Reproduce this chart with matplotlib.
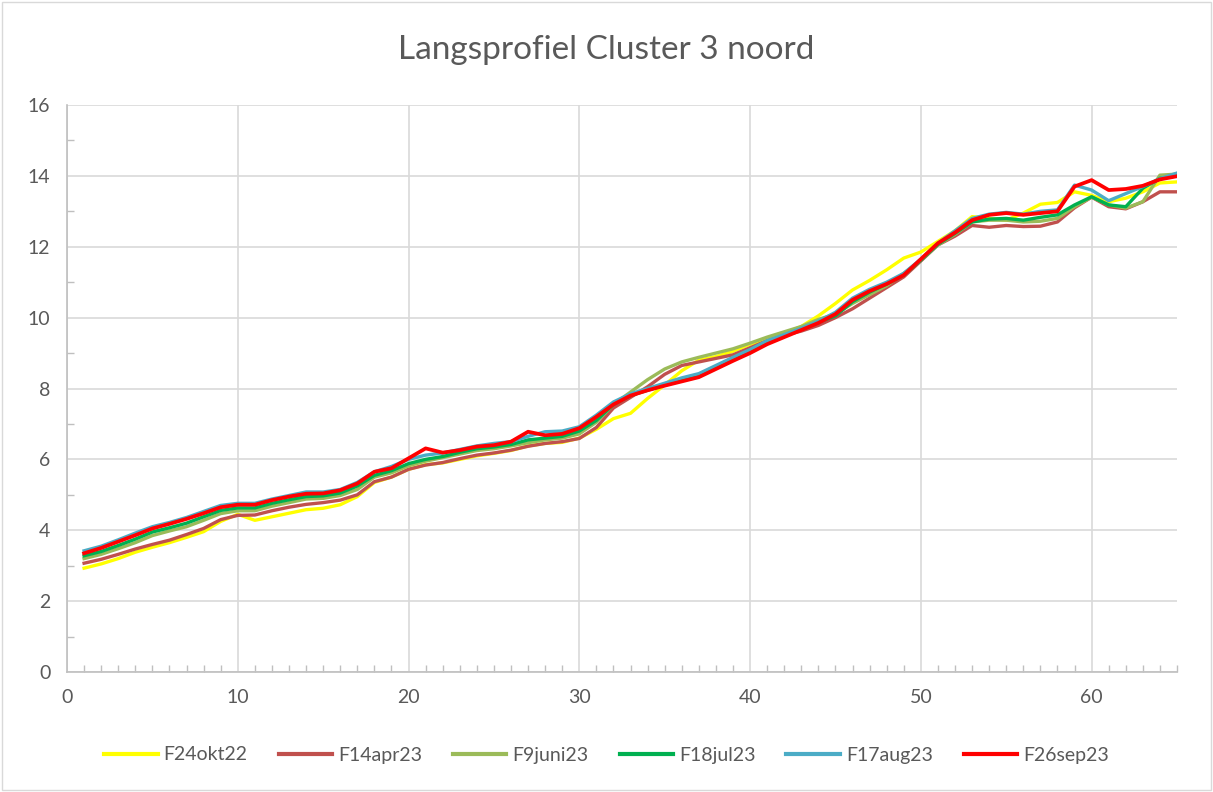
import matplotlib
matplotlib.use("Agg")
import matplotlib.pyplot as plt
from matplotlib.ticker import MultipleLocator
from matplotlib.patches import Rectangle

x = list(range(1, 66))

F24okt22 = [2.93, 3.05, 3.2, 3.38, 3.52, 3.65, 3.8, 3.96, 4.25, 4.45,
            4.28, 4.38, 4.48, 4.58, 4.62, 4.72, 4.95, 5.35, 5.5, 5.72,
            5.85, 5.9, 6.0, 6.1, 6.17, 6.25, 6.38, 6.45, 6.48, 6.6,
            6.85, 7.15, 7.3, 7.72, 8.1, 8.5, 8.8, 8.9, 9.05, 9.25,
            9.4, 9.55, 9.75, 10.05, 10.4, 10.78, 11.05, 11.35, 11.68, 11.85,
            12.15, 12.45, 12.85, 12.8, 12.75, 12.95, 13.2, 13.25, 13.55, 13.45,
            13.27, 13.37, 13.55, 13.8, 13.83]

F14apr23 = [3.07, 3.18, 3.32, 3.47, 3.6, 3.72, 3.88, 4.05, 4.3, 4.42,
            4.43, 4.55, 4.65, 4.73, 4.78, 4.85, 5.0, 5.37, 5.5, 5.72,
            5.84, 5.91, 6.02, 6.12, 6.18, 6.26, 6.37, 6.45, 6.5, 6.59,
            6.9, 7.45, 7.75, 8.05, 8.4, 8.65, 8.75, 8.85, 8.95, 9.15,
            9.35, 9.5, 9.62, 9.78, 10.0, 10.25, 10.55, 10.85, 11.15, 11.6,
            12.05, 12.3, 12.6, 12.55, 12.6, 12.57, 12.58, 12.7, 13.1, 13.4,
            13.13, 13.07, 13.27, 13.55, 13.55]

F9juni23 = [3.2, 3.32, 3.48, 3.65, 3.85, 3.98, 4.1, 4.28, 4.47, 4.55,
            4.55, 4.68, 4.78, 4.88, 4.9, 4.98, 5.15, 5.5, 5.62, 5.82,
            5.95, 6.05, 6.15, 6.25, 6.3, 6.38, 6.47, 6.55, 6.6, 6.72,
            7.05, 7.55, 7.9, 8.25, 8.55, 8.75, 8.88, 9.0, 9.12, 9.28,
            9.45, 9.6, 9.75, 9.95, 10.1, 10.4, 10.65, 10.9, 11.25, 11.62,
            12.05, 12.35, 12.7, 12.75, 12.75, 12.7, 12.72, 12.8, 13.13, 13.4,
            13.18, 13.09, 13.27, 14.02, 14.05]

F18jul23 = [3.28, 3.4, 3.57, 3.75, 3.95, 4.07, 4.2, 4.38, 4.56, 4.63,
            4.63, 4.76, 4.86, 4.95, 4.97, 5.05, 5.25, 5.55, 5.68, 5.88,
            6.0, 6.08, 6.2, 6.3, 6.35, 6.42, 6.55, 6.6, 6.65, 6.8,
            7.1, 7.55, 7.8, 7.95, 8.1, 8.25, 8.38, 8.62, 8.85, 9.08,
            9.32, 9.5, 9.68, 9.87, 10.05, 10.45, 10.72, 10.95, 11.2, 11.62,
            12.07, 12.38, 12.7, 12.78, 12.8, 12.75, 12.83, 12.9, 13.18, 13.41,
            13.18, 13.13, 13.65, 13.93, 14.0]

F17aug23 = [3.42, 3.55, 3.73, 3.92, 4.1, 4.22, 4.36, 4.53, 4.7, 4.76,
            4.76, 4.88, 4.98, 5.08, 5.08, 5.15, 5.35, 5.65, 5.8, 6.0,
            6.12, 6.18, 6.28, 6.38, 6.45, 6.5, 6.65, 6.78, 6.8, 6.92,
            7.25, 7.62, 7.85, 8.0, 8.15, 8.3, 8.42, 8.65, 8.88, 9.1,
            9.35, 9.52, 9.7, 9.9, 10.15, 10.55, 10.8, 11.0, 11.25, 11.65,
            12.1, 12.45, 12.8, 12.92, 12.97, 12.92, 13.0, 13.04, 13.74, 13.6,
            13.3, 13.5, 13.7, 13.92, 14.08]

F26sep23 = [3.35, 3.5, 3.68, 3.86, 4.05, 4.18, 4.32, 4.48, 4.65, 4.72,
            4.72, 4.85, 4.95, 5.03, 5.04, 5.13, 5.32, 5.65, 5.75, 6.03,
            6.31, 6.19, 6.26, 6.36, 6.4, 6.5, 6.78, 6.68, 6.72, 6.88,
            7.2, 7.55, 7.8, 7.95, 8.08, 8.2, 8.32, 8.55, 8.78, 9.0,
            9.25, 9.45, 9.65, 9.85, 10.1, 10.5, 10.75, 10.95, 11.2, 11.65,
            12.1, 12.4, 12.75, 12.9, 12.95, 12.9, 12.95, 13.0, 13.7, 13.88,
            13.6, 13.63, 13.72, 13.9, 13.99]

series = [
    ("F24okt22", F24okt22, "#FFFF00", 2.4),
    ("F14apr23", F14apr23, "#C0504D", 2.4),
    ("F9juni23", F9juni23, "#9BBB59", 2.4),
    ("F18jul23", F18jul23, "#00B050", 2.4),
    ("F17aug23", F17aug23, "#4BACC6", 2.4),
    ("F26sep23", F26sep23, "#FF0000", 2.7),
]

plt.rcParams['font.family'] = ['Lato', 'DejaVu Sans']

fig = plt.figure(figsize=(12.13, 7.92), dpi=100)
ax = fig.add_axes([67/1213, 1 - 672/792, (1177 - 67)/1213, (672 - 105)/792])

for name, vals, col, lw in series:
    ax.plot(x, vals, color=col, lw=lw, label=name, solid_joinstyle='round')

ax.set_xlim(0, 65)
ax.set_ylim(0, 16)
ax.xaxis.set_major_locator(MultipleLocator(10))
ax.xaxis.set_minor_locator(MultipleLocator(1))
ax.yaxis.set_major_locator(MultipleLocator(2))
ax.yaxis.set_minor_locator(MultipleLocator(1))
ax.grid(True, which='major', color='#D9D9D9', lw=1.2)
ax.set_axisbelow(True)
for s in ['top', 'right']:
    ax.spines[s].set_visible(False)
for s in ['left', 'bottom']:
    ax.spines[s].set_color('#BFBFBF')
    ax.spines[s].set_linewidth(1.2)
ax.tick_params(which='major', length=0, labelsize=14, labelcolor='#595959', pad=12)
ax.tick_params(which='minor', direction='in', length=5, color='#BFBFBF', width=1)
ax.tick_params(axis='y', which='major', pad=12)

fig.text(0.5, 1 - 50/792, "Langsprofiel Cluster 3 noord", ha='center', va='center',
         fontsize=24, color='#595959')

leg = ax.legend(loc='center', bbox_to_anchor=(0.5, 1 - 755/792), bbox_transform=fig.transFigure,
                ncol=6, frameon=False, fontsize=14, handlelength=2.75, columnspacing=1.6,
                handletextpad=0.3)
for t in leg.get_texts():
    t.set_color('#595959')
for l in leg.get_lines():
    l.set_linewidth(3)

fig.patches.append(Rectangle((0.002, 0.002), 0.996, 0.996, transform=fig.transFigure,
                             fill=False, edgecolor='#D9D9D9', lw=1))

fig.savefig("out.png", dpi=100)
